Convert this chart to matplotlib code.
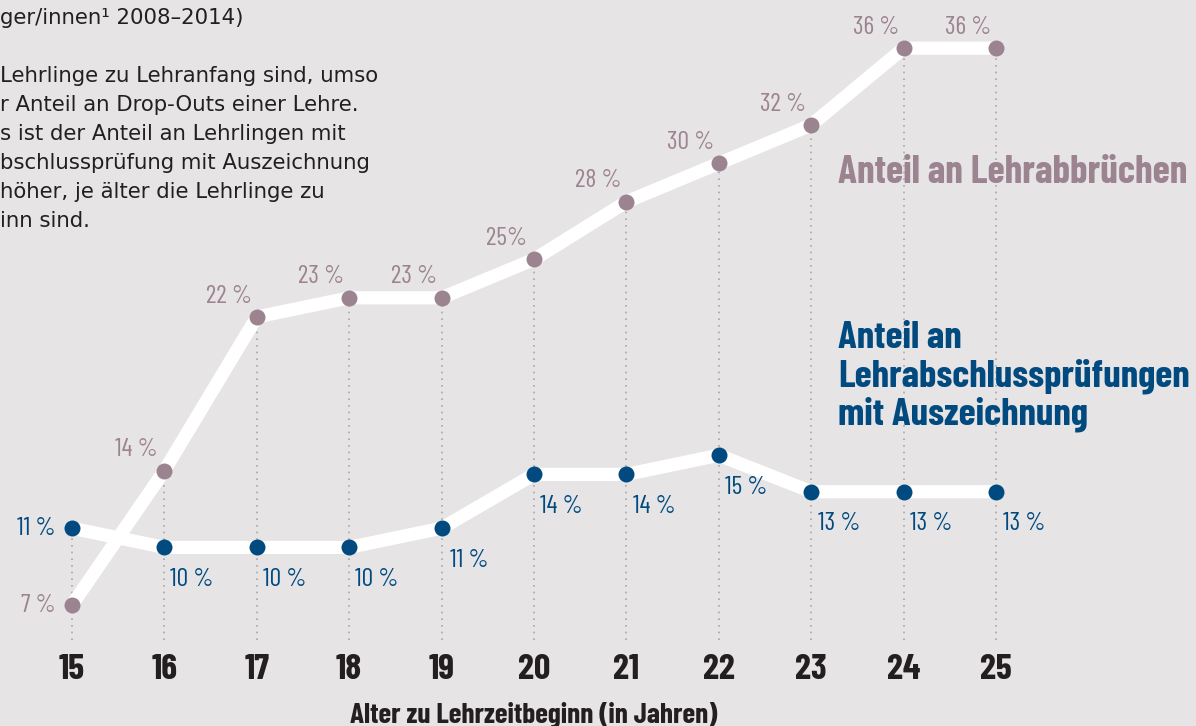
import os
import matplotlib.pyplot as plt
from matplotlib import font_manager
from matplotlib.font_manager import FontProperties

# Alter zu Lehrzeitbeginn
alter = [15, 16, 17, 18, 19, 20, 21, 22, 23, 24, 25]
# Anteil an Lehrabbruechen (%)
abbruch = [7, 14, 22, 23, 23, 25, 28, 30, 32, 36, 36]
abbruch_txt = ["7 %", "14 %", "22 %", "23 %", "23 %", "25%", "28 %", "30 %", "32 %", "36 %", "36 %"]
# Anteil an LAP mit Auszeichnung (%)
auszeichnung = [11, 10, 10, 10, 11, 13.8, 13.8, 14.8, 12.9, 12.9, 12.9]
auszeichnung_txt = ["11 %", "10 %", "10 %", "10 %", "11 %", "14 %", "14 %", "15 %", "13 %", "13 %", "13 %"]


def schrift(datei, size):
    for f in font_manager.fontManager.ttflist:
        if os.path.basename(f.fname) == datei:
            return FontProperties(fname=f.fname, size=size)
    return FontProperties(family='DejaVu Sans', size=size * 0.75)


bg = '#e6e4e5'
pink = '#9c8390'
blau = '#004a80'
dunkel = '#231f20'

f_label = schrift('BarlowCondensed-Regular.ttf', 18.5)
f_tick = schrift('BarlowCondensed-Bold.ttf', 26)
f_xlab = schrift('BarlowCondensed-Bold.ttf', 21)
f_titel = schrift('BarlowCondensed-Bold.ttf', 28.3)
f_titel2 = schrift('BarlowCondensed-Bold.ttf', 28)
f_text = FontProperties(family='DejaVu Sans', size=15.3)

fig = plt.figure(figsize=(11.96, 7.26), dpi=100, facecolor=bg)
ax = fig.add_axes([0, 0, 1, 1])
ax.set_facecolor(bg)
ax.set_xlim(14.221, 27.164)
ax.set_ylim(0.698, 38.51)
ax.axis('off')

# gepunktete Hilfslinien
for x, a, b in zip(alter, abbruch, auszeichnung):
    ax.plot([x, x], [5.2, max(a, b)], color='#a8a6a7', lw=1.2, ls=(0, (1, 3)), zorder=1)

ax.plot(alter, abbruch, color='white', lw=9.5, solid_capstyle='butt', zorder=2)
ax.plot(alter, auszeichnung, color='white', lw=9.5, solid_capstyle='butt', zorder=2)
ax.plot(alter, abbruch, 'o', color=pink, ms=11.5, mec='none', zorder=3)
ax.plot(alter, auszeichnung, 'o', color=blau, ms=11.5, mec='none', zorder=3)

for i, (x, y, t) in enumerate(zip(alter, abbruch, abbruch_txt)):
    if i == 0:
        ax.annotate(t, (x, y), xytext=(-12, 0), textcoords='offset points',
                    ha='right', va='center', fontproperties=f_label, color=pink)
    else:
        ax.annotate(t, (x, y), xytext=(-20, 15), textcoords='offset points',
                    ha='center', va='center', fontproperties=f_label, color=pink)

for i, (x, y, t) in enumerate(zip(alter, auszeichnung, auszeichnung_txt)):
    if i == 0:
        ax.annotate(t, (x, y), xytext=(-12, 0), textcoords='offset points',
                    ha='right', va='center', fontproperties=f_label, color=blau)
    else:
        ax.annotate(t, (x, y), xytext=(20, -23), textcoords='offset points',
                    ha='center', va='center', fontproperties=f_label, color=blau)

for x in alter:
    ax.text(x, 3.6, str(x), ha='center', va='center', fontproperties=f_tick, color=dunkel)
ax.text(20, 1.3, 'Alter zu Lehrzeitbeginn (in Jahren)', ha='center', va='center',
        fontproperties=f_xlab, color=dunkel)

ax.text(23.29, 29.5, 'Anteil an Lehrabbrüchen', ha='left', va='center',
        fontproperties=f_titel, color=pink)
ax.text(23.29, 18.9, 'Anteil an\nLehrabschlussprüfungen\nmit Auszeichnung', ha='left',
        va='center', fontproperties=f_titel2, color=blau, linespacing=1.1)

# Beschreibungstext links oben (abgeschnitten)
ax.text(0, 726 - 18, 'ger/innen¹ 2008–2014)', transform=None, fontproperties=f_text,
        color=dunkel, va='center')
zeilen = ["Lehrlinge zu Lehranfang sind, umso",
          "r Anteil an Drop-Outs einer Lehre.",
          "s ist der Anteil an Lehrlingen mit",
          "bschlussprüfung mit Auszeichnung",
          "höher, je älter die Lehrlinge zu",
          "inn sind."]
for i, z in enumerate(zeilen):
    ax.text(0, 726 - 76 - 29 * i, z, transform=None, fontproperties=f_text,
            color=dunkel, va='center')

fig.savefig('out.png', dpi=100, facecolor=bg)
